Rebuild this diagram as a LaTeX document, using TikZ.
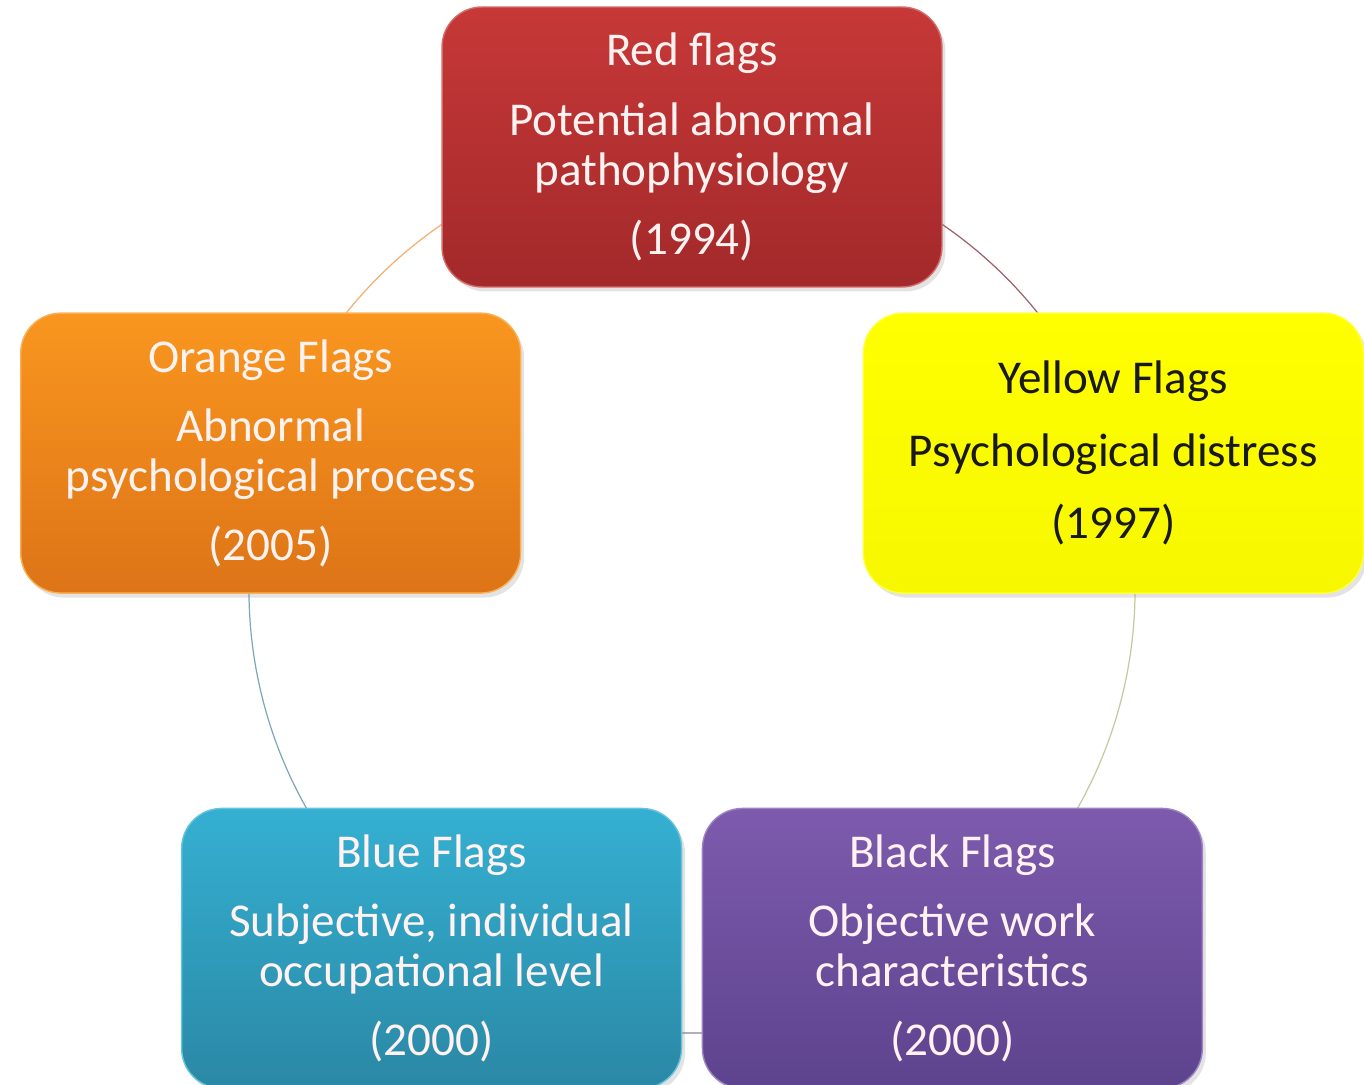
\documentclass[tikz,border=0pt]{standalone}
\usepackage{fontspec}
\setmainfont{Carlito}
\usepackage{xcolor}
\usepackage{tikz}
\usetikzlibrary{shadows}

\definecolor{redtop}{HTML}{C73838}
\definecolor{redbot}{HTML}{A3292A}
\definecolor{orangetop}{HTML}{F9961F}
\definecolor{orangebot}{HTML}{DD7417}
\definecolor{yellowtop}{HTML}{FFFF00}
\definecolor{yellowbot}{HTML}{F7F700}
\definecolor{bluetop}{HTML}{35B0D2}
\definecolor{bluebot}{HTML}{2A88A5}
\definecolor{purpletop}{HTML}{7D5AAD}
\definecolor{purplebot}{HTML}{5D438E}
\definecolor{lightpink}{HTML}{FFF2F0}

\tikzset{
  every node/.append style={font=\fontsize{26.8}{28.4}\selectfont},
  flagbox/.style={rounded corners=0.8cm, minimum width=10cm, minimum height=5.6cm,
    align=center, text=lightpink, line width=0.8pt,
    drop shadow={opacity=0.22, shadow xshift=0.7mm, shadow yshift=-0.9mm}},
  flagfill/.style={top color=#1top, bottom color=#1bot, draw=#1top!75!white},
  ring/.style={line width=0.7pt},
}

\begin{document}
\begin{tikzpicture}[x=0.02cm, y=0.02cm]
    \useasboundingbox (-692,-494) rectangle (672,590);
    % places on the circle
    \coordinate (redpos) at (90:443);
    \coordinate (yellowpos) at (18:443);
    \coordinate (blackpos) at (-54:443);
    \coordinate (bluepos) at (-126:443);
    \coordinate (orangepos) at (162:443);
    % ring segments, under the boxes
    \draw[ring, color={rgb,255:red,160;green,96;blue,104}] (redpos) arc[start angle=90, end angle=18, radius=443];
    \draw[ring, color={rgb,255:red,200;green,200;blue,160}] (yellowpos) arc[start angle=18, end angle=-54, radius=443];
    \draw[ring, color={rgb,255:red,140;green,124;blue,160}] (blackpos) arc[start angle=-54, end angle=-126, radius=443];
    \draw[ring, color={rgb,255:red,126;green,168;blue,186}] (bluepos) arc[start angle=-126, end angle=-198, radius=443];
    \draw[ring, color={rgb,255:red,240;green,176;blue,112}] (orangepos) arc[start angle=162, end angle=90, radius=443];
    % the five boxes
    \node[flagbox, flagfill=red] (redflags) at (redpos)
        {Red flags\\[11pt]Potential abnormal\\pathophysiology\\[11pt](1994)};
    \node[flagbox, flagfill=yellow, text=black!90] (yellowflags) at (yellowpos)
        {Yellow Flags\\[13pt]Psychological distress\\[13pt](1997)};
    \node[flagbox, flagfill=purple] (blackflags) at (blackpos)
        {Black Flags\\[11pt]Objective work\\characteristics\\[11pt](2000)};
    \node[flagbox, flagfill=blue] (blueflags) at (bluepos)
        {Blue Flags\\[11pt]Subjective, individual\\occupational level\\[11pt](2000)};
    \node[flagbox, flagfill=orange] (orangeflags) at (orangepos)
        {Orange Flags\\[11pt]Abnormal\\psychological process\\[11pt](2005)};
\end{tikzpicture}
\end{document}
